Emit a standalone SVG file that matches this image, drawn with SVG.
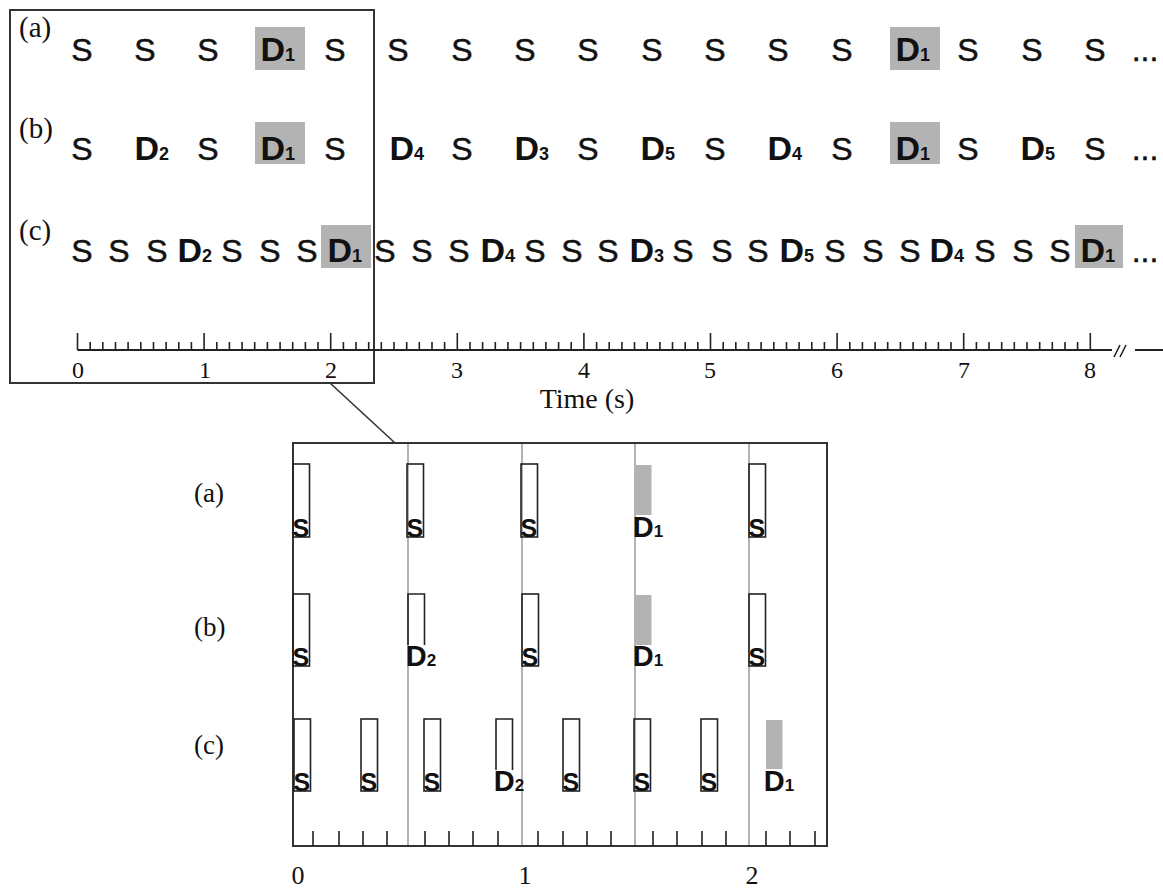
<svg xmlns="http://www.w3.org/2000/svg" width="1163" height="890" viewBox="0 0 1163 890">
<style>
.s{font-family:"Liberation Sans",Arial,sans-serif;font-size:32px;fill:#111;stroke:#111;stroke-width:0.5;text-anchor:middle}
.d{font-family:"Liberation Sans",Arial,sans-serif;font-weight:bold;font-size:34px;fill:#111}
.sub{font-size:18px}
.lbl{font-family:"Liberation Serif","Times New Roman",serif;font-size:29px;fill:#111}
.ax{font-family:"Liberation Serif","Times New Roman",serif;font-size:24px;fill:#111;text-anchor:middle}
.ax2{font-family:"Liberation Serif","Times New Roman",serif;font-size:26px;fill:#111;text-anchor:middle}
.grey{fill:#b3b3b3}
.frame{fill:none;stroke:#333;stroke-width:2}
.box{fill:none;stroke:#222;stroke-width:1.6}
.bs{font-family:"Liberation Sans",Arial,sans-serif;font-weight:bold;font-size:25px;fill:#111}
.bd{font-family:"Liberation Sans",Arial,sans-serif;font-weight:bold;font-size:29px;fill:#111}
.bsub{font-size:17px}
.tick{fill:none;stroke:#222;stroke-width:1.6}
.axis{fill:none;stroke:#222;stroke-width:2}
.vline{stroke:#8a8a8a;stroke-width:1.3}
</style>

<g id="top-frame">
<rect class="frame" x="10" y="10" width="364" height="373"/>
</g>

<g id="row-a">
<text class="lbl" x="19" y="37">(a)</text>
<rect class="grey" x="255" y="27" width="50" height="43"/>
<rect class="grey" x="890" y="27" width="50" height="43"/>
<text class="s" y="61"><tspan x="82">S</tspan><tspan x="145">S</tspan><tspan x="208">S</tspan><tspan x="335">S</tspan><tspan x="398">S</tspan><tspan x="462">S</tspan><tspan x="525">S</tspan><tspan x="588">S</tspan><tspan x="652">S</tspan><tspan x="715">S</tspan><tspan x="778">S</tspan><tspan x="842">S</tspan><tspan x="968">S</tspan><tspan x="1032">S</tspan><tspan x="1095">S</tspan><tspan x="1145">...</tspan></text>
<text class="d" x="260.5" y="61">D<tspan class="sub">1</tspan></text>
<text class="d" x="895.5" y="61">D<tspan class="sub">1</tspan></text>
</g>

<g id="row-b">
<text class="lbl" x="19" y="138">(b)</text>
<rect class="grey" x="255" y="122" width="50" height="42"/>
<rect class="grey" x="890" y="122" width="50" height="42"/>
<text class="s" y="160"><tspan x="82">S</tspan><tspan x="208">S</tspan><tspan x="335">S</tspan><tspan x="462">S</tspan><tspan x="588">S</tspan><tspan x="715">S</tspan><tspan x="842">S</tspan><tspan x="968">S</tspan><tspan x="1095">S</tspan><tspan x="1145">...</tspan></text>
<text class="d" x="134.5" y="160">D<tspan class="sub">2</tspan></text>
<text class="d" x="260.5" y="160">D<tspan class="sub">1</tspan></text>
<text class="d" x="389.5" y="160">D<tspan class="sub">4</tspan></text>
<text class="d" x="514.5" y="160">D<tspan class="sub">3</tspan></text>
<text class="d" x="640.5" y="160">D<tspan class="sub">5</tspan></text>
<text class="d" x="767.5" y="160">D<tspan class="sub">4</tspan></text>
<text class="d" x="895.5" y="160">D<tspan class="sub">1</tspan></text>
<text class="d" x="1020.5" y="160">D<tspan class="sub">5</tspan></text>
</g>

<g id="row-c">
<text class="lbl" x="19" y="240">(c)</text>
<rect class="grey" x="321" y="225" width="50" height="43"/>
<rect class="grey" x="1075" y="225" width="48" height="43"/>
<text class="s" y="262"><tspan x="82">S</tspan><tspan x="119">S</tspan><tspan x="157">S</tspan><tspan x="232">S</tspan><tspan x="270">S</tspan><tspan x="307">S</tspan><tspan x="385">S</tspan><tspan x="422">S</tspan><tspan x="459">S</tspan><tspan x="535">S</tspan><tspan x="572">S</tspan><tspan x="608">S</tspan><tspan x="683">S</tspan><tspan x="722">S</tspan><tspan x="758">S</tspan><tspan x="835">S</tspan><tspan x="873">S</tspan><tspan x="910">S</tspan><tspan x="985">S</tspan><tspan x="1023">S</tspan><tspan x="1060">S</tspan><tspan x="1145">...</tspan></text>
<text class="d" x="177.5" y="262">D<tspan class="sub">2</tspan></text>
<text class="d" x="327.5" y="262">D<tspan class="sub">1</tspan></text>
<text class="d" x="480.5" y="262">D<tspan class="sub">4</tspan></text>
<text class="d" x="629.5" y="262">D<tspan class="sub">3</tspan></text>
<text class="d" x="779.5" y="262">D<tspan class="sub">5</tspan></text>
<text class="d" x="929.5" y="262">D<tspan class="sub">4</tspan></text>
<text class="d" x="1080.5" y="262">D<tspan class="sub">1</tspan></text>
</g>

<g id="time-axis">
<path class="axis" d="M77.5 350H1112M1135 350H1163"/>
<path class="tick" d="M1114 357L1120 345M1120 357L1126 345"/>
<path class="tick" d="M77.5 333v17M204.1 333v17M330.7 333v17M457.3 333v17M583.9 333v17M710.5 333v17M837.1 333v17M963.7 333v17M1090.3 333v17"/>
<path class="tick" d="M90.2 342v8M102.8 342v8M115.5 342v8M128.1 342v8M140.8 342v8M153.5 342v8M166.1 342v8M178.8 342v8M191.4 342v8M216.8 342v8M229.4 342v8M242.1 342v8M254.7 342v8M267.4 342v8M280.1 342v8M292.7 342v8M305.4 342v8M318 342v8M343.4 342v8M356 342v8M368.7 342v8M381.3 342v8M394 342v8M406.7 342v8M419.3 342v8M432 342v8M444.6 342v8M470 342v8M482.6 342v8M495.3 342v8M507.9 342v8M520.6 342v8M533.3 342v8M545.9 342v8M558.6 342v8M571.2 342v8M596.6 342v8M609.2 342v8M621.9 342v8M634.5 342v8M647.2 342v8M659.9 342v8M672.5 342v8M685.2 342v8M697.8 342v8M723.2 342v8M735.8 342v8M748.5 342v8M761.1 342v8M773.8 342v8M786.5 342v8M799.1 342v8M811.8 342v8M824.4 342v8M849.8 342v8M862.4 342v8M875.1 342v8M887.7 342v8M900.4 342v8M913.1 342v8M925.7 342v8M938.4 342v8M951 342v8M976.4 342v8M989 342v8M1001.7 342v8M1014.3 342v8M1027 342v8M1039.7 342v8M1052.3 342v8M1065 342v8M1077.6 342v8"/>
<text class="ax" y="378"><tspan x="78">0</tspan><tspan x="205">1</tspan><tspan x="331">2</tspan><tspan x="457">3</tspan><tspan x="584">4</tspan><tspan x="710">5</tspan><tspan x="837">6</tspan><tspan x="964">7</tspan><tspan x="1090">8</tspan></text>
<text class="lbl" x="587" y="408" text-anchor="middle" style="font-size:28px">Time (s)</text>
</g>

<g id="connectors">
<line x1="330" y1="383" x2="395" y2="443" stroke="#333" stroke-width="1.6"/>
</g>

<g id="zoom-frame">
<line class="vline" x1="408" y1="443" x2="408" y2="846"/>
<line class="vline" x1="522" y1="443" x2="522" y2="846"/>
<line class="vline" x1="635" y1="443" x2="635" y2="846"/>
<line class="vline" x1="749" y1="443" x2="749" y2="846"/>
<rect class="frame" x="293" y="443" width="534" height="403"/>
<path class="tick" d="M313 831v15M339 831v15M363 831v15M387 831v15M425 831v15M449 831v15M473 831v15M498 831v15M538 831v15M563 831v15M587 831v15M611 831v15M653 831v15M677 831v15M702 831v15M726 831v15M766 831v15M790 831v15M815 831v15"/>
<text class="ax2" y="884"><tspan x="298">0</tspan><tspan x="525">1</tspan><tspan x="752">2</tspan></text>
</g>

<g id="zoom-row-a">
<text class="lbl" x="194" y="502" style="font-size:27px">(a)</text>
<rect class="box" x="293" y="464" width="16.5" height="73"/><text class="bs" x="292.5" y="537">S</text>
<rect class="box" x="407" y="464" width="16.5" height="73"/><text class="bs" x="406.5" y="537">S</text>
<rect class="box" x="521" y="464" width="16.5" height="73"/><text class="bs" x="520.5" y="537">S</text>
<rect class="grey" x="635" y="465" width="16.5" height="50"/><text class="bd" x="632.8" y="537">D<tspan class="bsub">1</tspan></text>
<rect class="box" x="749" y="464" width="16.5" height="73"/><text class="bs" x="748.5" y="537">S</text>
</g>

<g id="zoom-row-b">
<text class="lbl" x="194" y="636" style="font-size:27px">(b)</text>
<rect class="box" x="293" y="594" width="16.5" height="72"/><text class="bs" x="292.5" y="666">S</text>
<path class="box" d="M408 645V594H424.5V645"/><text class="bd" x="405.8" y="666">D<tspan class="bsub">2</tspan></text>
<rect class="box" x="522" y="594" width="16.5" height="72"/><text class="bs" x="521.5" y="666">S</text>
<rect class="grey" x="635" y="595" width="16.5" height="50"/><text class="bd" x="632.8" y="666">D<tspan class="bsub">1</tspan></text>
<rect class="box" x="749" y="594" width="16.5" height="72"/><text class="bs" x="748.5" y="666">S</text>
</g>

<g id="zoom-row-c">
<text class="lbl" x="194" y="754" style="font-size:27px">(c)</text>
<rect class="box" x="294" y="719" width="16.5" height="72"/><text class="bs" x="293.5" y="791">S</text>
<rect class="box" x="361" y="719" width="16.5" height="72"/><text class="bs" x="360.5" y="791">S</text>
<rect class="box" x="424" y="719" width="16.5" height="72"/><text class="bs" x="423.5" y="791">S</text>
<path class="box" d="M496 770V719H512.5V770"/><text class="bd" x="493.8" y="791">D<tspan class="bsub">2</tspan></text>
<rect class="box" x="563" y="719" width="16.5" height="72"/><text class="bs" x="562.5" y="791">S</text>
<rect class="box" x="634" y="719" width="16.5" height="72"/><text class="bs" x="633.5" y="791">S</text>
<rect class="box" x="701" y="719" width="16.5" height="72"/><text class="bs" x="700.5" y="791">S</text>
<rect class="grey" x="766" y="720" width="16.5" height="49"/><text class="bd" x="763.8" y="791">D<tspan class="bsub">1</tspan></text>
</g>
</svg>
